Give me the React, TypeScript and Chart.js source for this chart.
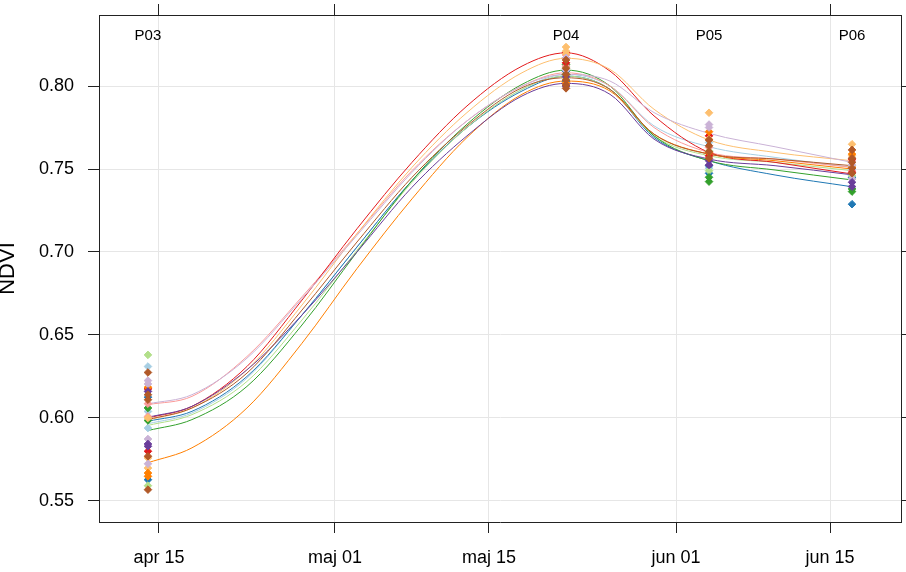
import React, { useEffect, useRef } from "react";
import { Chart, registerables } from "chart.js";

Chart.register(...registerables);

// ---------- data ----------
const YEAR = 2017;
const curveDates = ["04-14", "04-18", "04-23", "04-28", "05-03", "05-08", "05-13", "05-18", "05-22", "05-26", "05-30", "06-04", "06-10", "06-17"];
const sampleDates = ["04-14", "05-22", "06-04", "06-17"];
const sampleLabels = ["P03", "P04", "P05", "P06"];
const xTickDates = ["04-15", "05-01", "05-15", "06-01", "06-15"];
const xTickLabels = ["apr 15", "maj 01", "maj 15", "jun 01", "jun 15"];
const yTickValues = [0.55, 0.6, 0.65, 0.7, 0.75, 0.8];

const seriesColors = ["#A6CEE3", "#1F78B4", "#B2DF8A", "#33A02C", "#FB9A99", "#E31A1C", "#FDBF6F", "#FF7F00", "#CAB2D6", "#6A3D9A", "#B15928"];

// smoothed curves, one per series (values at curveDates)
const curveLightBlue = [0.5965, 0.603, 0.624, 0.662, 0.703, 0.743, 0.775, 0.798, 0.807, 0.8, 0.776, 0.7634, 0.757, 0.751];
const curveBlue = [0.598, 0.604, 0.625, 0.662, 0.703, 0.743, 0.775, 0.797, 0.806, 0.798, 0.769, 0.755, 0.7464, 0.7393];
const curveLightGreen = [0.5955, 0.602, 0.622, 0.659, 0.701, 0.742, 0.775, 0.798, 0.806, 0.798, 0.77, 0.758, 0.754, 0.749];
const curveGreen = [0.5924, 0.599, 0.619, 0.656, 0.7, 0.743, 0.777, 0.801, 0.8096, 0.8, 0.77, 0.755, 0.7494, 0.7434];
const curvePink = [0.608, 0.613, 0.637, 0.673, 0.711, 0.749, 0.779, 0.8, 0.808, 0.8, 0.775, 0.76, 0.756, 0.751];
const curveRed = [0.6, 0.607, 0.631, 0.671, 0.714, 0.754, 0.788, 0.812, 0.82, 0.809, 0.782, 0.76, 0.754, 0.747];
const curveLightOrange = [0.5988, 0.606, 0.629, 0.668, 0.711, 0.751, 0.784, 0.808, 0.8167, 0.81, 0.786, 0.7675, 0.76, 0.755];
const curveOrange = [0.573, 0.582, 0.606, 0.645, 0.69, 0.732, 0.769, 0.795, 0.803, 0.797, 0.771, 0.759, 0.755, 0.75];
const curveLavender = [0.6085, 0.614, 0.636, 0.672, 0.71, 0.748, 0.779, 0.8, 0.807, 0.803, 0.784, 0.7715, 0.7634, 0.754];
const curvePurple = [0.6004, 0.607, 0.629, 0.662, 0.7, 0.739, 0.77, 0.794, 0.8016, 0.795, 0.768, 0.756, 0.752, 0.7465];
const curveBrown = [0.599, 0.606, 0.627, 0.665, 0.706, 0.745, 0.776, 0.799, 0.805, 0.798, 0.771, 0.759, 0.756, 0.752];
const curves = [curveLightBlue, curveBlue, curveLightGreen, curveGreen, curvePink, curveRed, curveLightOrange, curveOrange, curveLavender, curvePurple, curveBrown];

// observed points per series at each sampling date
const p03Values = [
  [0.631, 0.6039, 0.5939],
  [0.6125, 0.5628],
  [0.638, 0.5592],
  [0.606, 0.5985],
  [0.6086, 0.6009],
  [0.6175, 0.5799],
  [0.6, 0.5759, 0.5698],
  [0.6185, 0.5668, 0.5648],
  [0.6225, 0.6205, 0.5873, 0.5724],
  [0.616, 0.5843, 0.5829],
  [0.6274, 0.614, 0.611, 0.5769, 0.5568],
];
const p04Values = [
  [0.812, 0.806],
  [0.809, 0.803],
  [0.811, 0.805],
  [0.813, 0.807],
  [0.8187, 0.812],
  [0.82, 0.814],
  [0.8235, 0.821, 0.8195],
  [0.817, 0.802],
  [0.8096, 0.817],
  [0.8056, 0.8],
  [0.8157, 0.8107, 0.807, 0.8036, 0.8006, 0.7986],
];
const p05Values = [
  [0.766, 0.7505],
  [0.7474, 0.752],
  [0.761, 0.749],
  [0.7424, 0.745],
  [0.763, 0.758],
  [0.77, 0.758],
  [0.7839, 0.768],
  [0.7725, 0.76],
  [0.7768, 0.775],
  [0.7524, 0.755],
  [0.7675, 0.764, 0.7604, 0.7565],
];
const p06Values = [
  [0.75, 0.744],
  [0.7288, 0.745],
  [0.746, 0.752],
  [0.7364, 0.738],
  [0.755, 0.749],
  [0.756, 0.748],
  [0.7649, 0.758],
  [0.759, 0.751],
  [0.7524, 0.744],
  [0.7394, 0.742],
  [0.7615, 0.7565, 0.754, 0.7505, 0.7474],
];
const pointSets = [p03Values, p04Values, p05Values, p06Values];

// ---------- helpers ----------
const BASE = Date.UTC(YEAR, 3, 15);
const dayOf = (s: string) => (Date.UTC(YEAR, +s.slice(0, 2) - 1, +s.slice(3, 5)) - BASE) / 86400000;

const X_MIN = -5.45;
const X_MAX = 67.45;
const Y_MIN = 0.5373;
const Y_MAX = 0.8428;

const FONT = '"Liberation Sans", Arial, Helvetica, sans-serif';
const AXIS = "#222222";
const GRID = "#e6e6e6";

const stripPlugin = {
  id: "stripLabels",
  afterDatasetsDraw(chart: any) {
    const ctx = chart.ctx;
    const xs = chart.scales.x;
    ctx.save();
    ctx.font = `15px ${FONT}`;
    ctx.fillStyle = "#000";
    ctx.textAlign = "center";
    ctx.textBaseline = "middle";
    sampleDates.forEach((d, i) => {
      ctx.fillText(sampleLabels[i], xs.getPixelForValue(dayOf(d)), chart.chartArea.top + 21);
    });
    ctx.restore();
  },
};

const noPad = (s: any) => {
  s.paddingTop = 0;
  s.paddingBottom = 0;
  s.paddingLeft = 0;
  s.paddingRight = 0;
};

export default function App() {
  const ref = useRef<HTMLCanvasElement>(null);

  useEffect(() => {
    document.body.style.margin = "0";
    const n = seriesColors.length;
    const datasets: any[] = [];
    seriesColors.forEach((color, i) => {
      datasets.push({
        label: `curve ${i}`,
        data: curves[i].map((v, j) => ({ x: dayOf(curveDates[j]), y: v })),
        showLine: true,
        borderColor: color,
        backgroundColor: color,
        borderWidth: 1,
        pointRadius: 0,
        cubicInterpolationMode: "monotone",
        tension: 0.4,
        order: n + (n - 1 - i),
      });
    });
    seriesColors.forEach((color, i) => {
      const pts: { x: number; y: number }[] = [];
      pointSets.forEach((set, k) => {
        set[i].forEach((v) => pts.push({ x: dayOf(sampleDates[k]), y: v }));
      });
      datasets.push({
        label: `points ${i}`,
        data: pts,
        showLine: false,
        pointStyle: "rectRot",
        pointRadius: 3.8,
        pointBorderWidth: 1,
        pointBackgroundColor: color,
        pointBorderColor: color,
        order: n - 1 - i,
      });
    });

    const xTicks = (s: any) => {
      s.ticks = xTickDates.map((d) => ({ value: dayOf(d) }));
    };
    const yTicks = (s: any) => {
      s.ticks = yTickValues.map((v) => ({ value: v }));
    };

    Chart.defaults.font.family = FONT;

    const chart = new Chart(ref.current!, {
      type: "scatter",
      data: { datasets },
      plugins: [stripPlugin],
      options: {
        animation: false,
        responsive: false,
        devicePixelRatio: 1,
        events: [],
        layout: { padding: 0 },
        plugins: { legend: { display: false }, tooltip: { enabled: false } },
        scales: {
          x: {
            type: "linear",
            position: "bottom",
            min: X_MIN,
            max: X_MAX,
            afterBuildTicks: xTicks,
            afterFit: (s: any) => {
              s.height = 50;
              noPad(s);
            },
            ticks: {
              autoSkip: false,
              maxRotation: 0,
              padding: 14,
              color: "#000",
              font: { size: 18, family: FONT },
              callback: (_v: any, i: number) => xTickLabels[i],
            },
            grid: { color: GRID, lineWidth: 1, tickColor: AXIS, tickLength: 11, drawTicks: true },
            border: { display: true, color: AXIS, width: 1 },
          },
          x2: {
            type: "linear",
            position: "top",
            min: X_MIN,
            max: X_MAX,
            afterBuildTicks: xTicks,
            afterFit: (s: any) => {
              s.height = 15;
              noPad(s);
            },
            ticks: { display: false },
            grid: { drawOnChartArea: false, tickColor: AXIS, tickLength: 11, drawTicks: true },
            border: { display: true, color: AXIS, width: 1 },
          },
          y: {
            type: "linear",
            position: "left",
            min: Y_MIN,
            max: Y_MAX,
            afterBuildTicks: yTicks,
            afterFit: (s: any) => {
              s.width = 99;
              noPad(s);
            },
            title: {
              display: true,
              text: "NDVI",
              color: "#000",
              padding: 0,
              font: { size: 22, family: FONT, lineHeight: 0.7 },
            },
            ticks: {
              autoSkip: false,
              padding: 14,
              color: "#000",
              font: { size: 18, family: FONT },
              callback: (v: any) => Number(v).toFixed(2),
            },
            grid: { color: GRID, lineWidth: 1, tickColor: AXIS, tickLength: 11, drawTicks: true },
            border: { display: true, color: AXIS, width: 1 },
          },
          y2: {
            type: "linear",
            position: "right",
            min: Y_MIN,
            max: Y_MAX,
            afterBuildTicks: yTicks,
            afterFit: (s: any) => {
              s.width = 5;
              noPad(s);
            },
            ticks: { display: false },
            grid: { drawOnChartArea: false, tickColor: AXIS, tickLength: 11, drawTicks: true },
            border: { display: true, color: AXIS, width: 1 },
          },
        },
      } as any,
    });
    return () => chart.destroy();
  }, []);

  return (
    <div style={{ position: "absolute", left: 0, top: 0, width: 906, height: 572, background: "#fff" }}>
      <canvas ref={ref} width={906} height={572} style={{ display: "block", width: 906, height: 572 }} />
    </div>
  );
}
